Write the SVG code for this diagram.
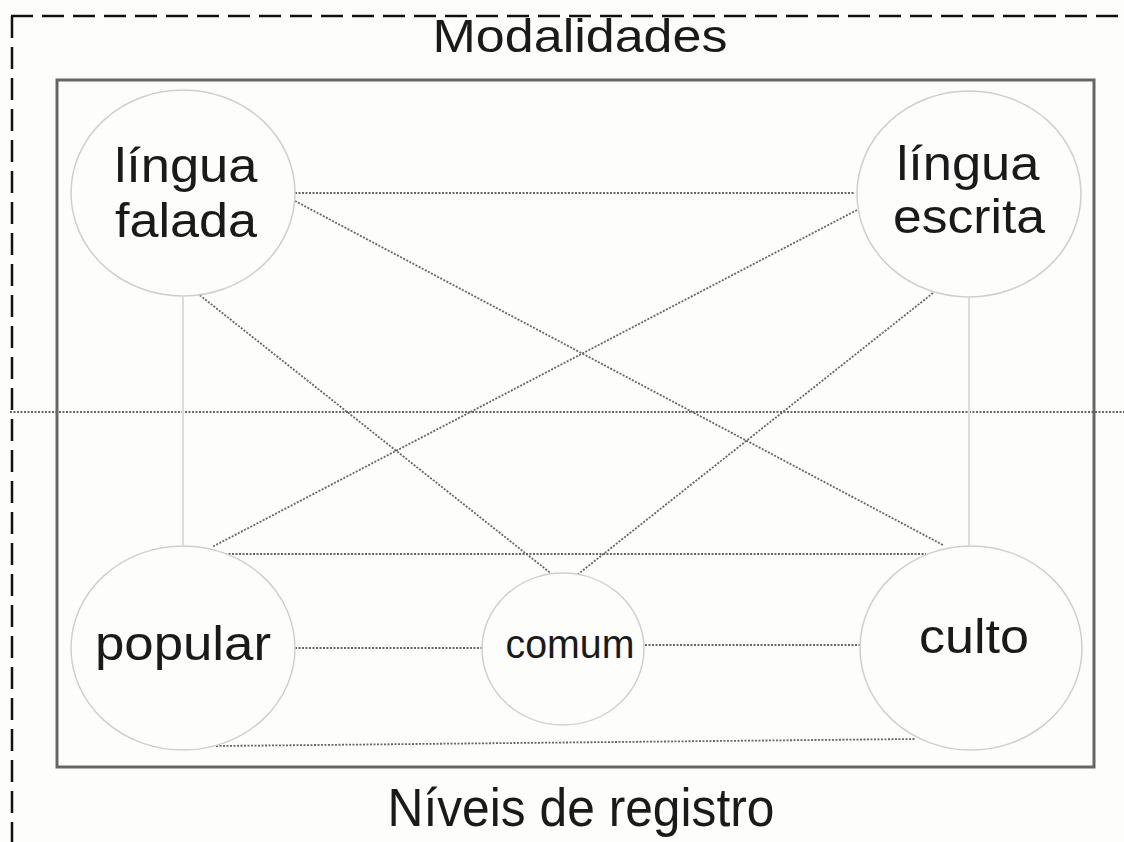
<svg xmlns="http://www.w3.org/2000/svg" width="1124" height="842" viewBox="0 0 1124 842">
<style>
.lbl{font-family:"Liberation Sans",Arial,sans-serif;fill:#1a1a1a}
.node{fill:#fdfdfb;stroke:#cfcfcf;stroke-width:1.5}
.dot{stroke:#666;stroke-width:1.8;stroke-dasharray:2 1.5;fill:none}
.solid{stroke:#dcdcdc;stroke-width:2;fill:none}
</style>
<rect x="0" y="0" width="1124" height="842" fill="#fdfdfb"/>
<path d="M11 16 H1124 M12 16 V842" stroke="#111" stroke-width="2.5" stroke-dasharray="22 9" fill="none"/>
<text class="lbl" x="580" y="52" font-size="47" text-anchor="middle" textLength="295" lengthAdjust="spacingAndGlyphs">Modalidades</text>
<rect x="57" y="80" width="1037" height="687" fill="none" stroke="#666" stroke-width="3"/>
<text class="lbl" x="581" y="826" font-size="53" text-anchor="middle" textLength="387" lengthAdjust="spacingAndGlyphs">Níveis de registro</text>
<g id="connectors">
<line class="dot" x1="10" y1="412" x2="1124" y2="412"/>
<line class="dot" x1="295" y1="193" x2="855" y2="193"/>
<line class="dot" x1="295" y1="201" x2="943" y2="545"/>
<line class="dot" x1="857" y1="210" x2="212" y2="547"/>
<line class="dot" x1="197" y1="293" x2="553" y2="575"/>
<line class="dot" x1="933" y1="293" x2="577" y2="575"/>
<line class="solid" x1="183" y1="297" x2="183" y2="546"/>
<line class="solid" x1="969" y1="297" x2="969" y2="546"/>
<line class="dot" x1="225" y1="554" x2="926" y2="554"/>
<line class="dot" x1="295" y1="648" x2="482" y2="648"/>
<line class="dot" x1="645" y1="645" x2="860" y2="645"/>
<line class="dot" x1="216" y1="746" x2="915" y2="739"/>
</g>
<g id="falada">
<ellipse class="node" cx="183" cy="193" rx="112" ry="103"/>
<text class="lbl" x="186" y="182" font-size="48" text-anchor="middle" textLength="143" lengthAdjust="spacingAndGlyphs">língua</text>
<text class="lbl" x="186" y="237" font-size="48" text-anchor="middle" textLength="142" lengthAdjust="spacingAndGlyphs">falada</text>
</g>
<g id="escrita">
<ellipse class="node" cx="969" cy="194" rx="112" ry="103"/>
<text class="lbl" x="968" y="180" font-size="48" text-anchor="middle" textLength="143" lengthAdjust="spacingAndGlyphs">língua</text>
<text class="lbl" x="969" y="233" font-size="48" text-anchor="middle" textLength="152" lengthAdjust="spacingAndGlyphs">escrita</text>
</g>
<g id="popular">
<ellipse class="node" cx="183" cy="648" rx="112" ry="102"/>
<text class="lbl" x="183" y="660" font-size="48" text-anchor="middle" textLength="176" lengthAdjust="spacingAndGlyphs">popular</text>
</g>
<g id="comum">
<ellipse class="node" cx="563" cy="649" rx="81" ry="76"/>
<text class="lbl" x="570" y="658" font-size="40" text-anchor="middle" textLength="129" lengthAdjust="spacingAndGlyphs">comum</text>
</g>
<g id="culto">
<ellipse class="node" cx="971" cy="648" rx="111" ry="102"/>
<text class="lbl" x="974" y="653" font-size="48" text-anchor="middle" textLength="110" lengthAdjust="spacingAndGlyphs">culto</text>
</g>
</svg>
